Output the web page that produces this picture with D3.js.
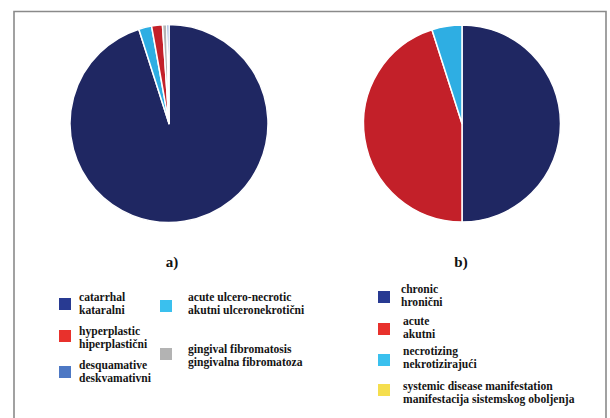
<!DOCTYPE html>
<html>
<head>
<meta charset="utf-8">
<script src="https://cdn.jsdelivr.net/npm/d3@7"></script>
<style>
  html, body { margin: 0; padding: 0; background: #fff; }
  svg { display: block; }
  .lg { font-family: 'Liberation Serif', serif; font-weight: 700; font-size: 13px; fill: #141414; }
  .panel { font-family: 'Liberation Serif', serif; font-weight: 700; font-size: 15px; fill: #111; }
</style>
</head>
<body>
<svg id="chart" width="610" height="418"></svg>
<script>
// Panel a) — forms of gingivitis (number of patients)
const catA = ["catarrhal", "acute ulcero-necrotic", "hyperplastic", "gingival fibromatosis", "desquamative"];
const catA_local = ["kataralni", "akutni ulceronekrotični", "hiperplastični", "gingivalna fibromatoza", "deskvamativni"];
const valA = [270, 6, 5, 2, 1];
const pieColA = ["#1f2762", "#2eaee3", "#c32029", "#b4b4b4", "#4a72bf"];
const legColA = ["#283a92", "#3ac0ee", "#e8312c", "#b3b3b3", "#4d78c4"];

// Panel b) — course of the disease
const catB = ["chronic", "acute", "necrotizing", "systemic disease manifestation"];
const catB_local = ["hronični", "akutni", "nekrotizirajući", "manifestacija sistemskog oboljenja"];
const valB = [142, 128, 14, 0];
const pieColB = ["#1f2762", "#c32029", "#2eaee3", "#f2d94a"];
const legColB = ["#283a92", "#e8312c", "#3ac0ee", "#f5de4e"];

const panelLabels = ["a)", "b)"];

const svg = d3.select("#chart");

// outer frame
svg.append("path")
  .attr("d", "M14,430 L14,11.5 L606,11.5 L606,430")
  .attr("fill", "none")
  .attr("stroke", "#8a8a8a")
  .attr("stroke-width", 1.6);

const pie = d3.pie().sort(null).value(d => d);

function drawPie(values, colors, cx, cy, r) {
  const arc = d3.arc().innerRadius(0).outerRadius(r);
  const g = svg.append("g").attr("transform", `translate(${cx},${cy})`);
  g.selectAll("path")
    .data(pie(values).filter(d => d.value > 0))
    .join("path")
    .attr("d", arc)
    .attr("fill", d => colors[d.index])
    .attr("stroke", "#fff")
    .attr("stroke-width", 1.5)
    .attr("stroke-linejoin", "round");
}

drawPie(valA, pieColA, 169, 123.5, 99);
drawPie(valB, pieColB, 462, 123.5, 98.5);

svg.append("text").attr("class", "panel").attr("x", 172).attr("y", 267)
  .attr("text-anchor", "middle").text(panelLabels[0]);
svg.append("text").attr("class", "panel").attr("x", 461).attr("y", 267)
  .attr("text-anchor", "middle").text(panelLabels[1]);

// one legend entry: swatch plus two-line label (English / local), set in a narrow bold serif
function legendItem(name, local, color, sx, sy, tx, ty, size) {
  svg.append("rect").attr("x", sx).attr("y", sy)
    .attr("width", size).attr("height", size).attr("fill", color);
  const t = svg.append("text").attr("class", "lg")
    .attr("transform", `translate(${tx},0) scale(0.89,1)`);
  t.append("tspan").attr("x", 0).attr("y", ty).text(name);
  t.append("tspan").attr("x", 0).attr("y", ty + 13.5).text(local);
}

const posA = [
  [59, 298, 79, 301],   // catarrhal
  [160, 300, 188, 301], // acute ulcero-necrotic
  [59, 330, 79, 335],   // hyperplastic
  [160, 348, 188, 353], // gingival fibromatosis
  [59, 366, 79, 369]    // desquamative
];
catA.forEach((c, i) => {
  const p = posA[i];
  legendItem(c, catA_local[i], legColA[i], p[0], p[1], p[2], p[3], 12);
});

const posB = [
  [378, 291, 401, 293],
  [378, 323, 403, 325],
  [378, 354, 403, 355],
  [378, 384, 403, 390]
];
catB.forEach((c, i) => {
  const p = posB[i];
  legendItem(c, catB_local[i], legColB[i], p[0], p[1], p[2], p[3], 12);
});
</script>
</body>
</html>
